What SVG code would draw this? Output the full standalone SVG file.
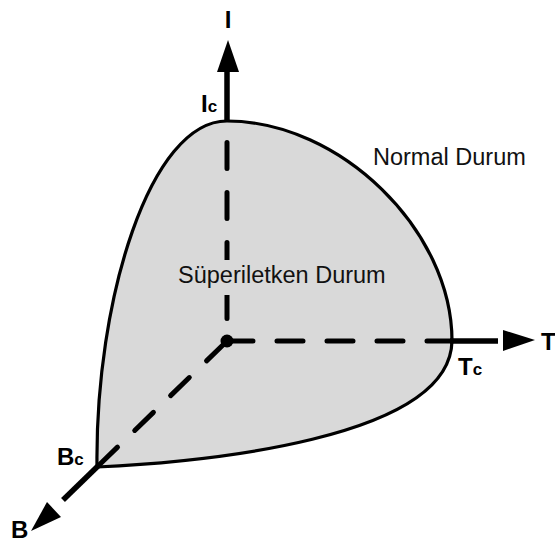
<svg xmlns="http://www.w3.org/2000/svg" width="555" height="545" viewBox="0 0 555 545">
<style>
.lbl{font-family:"Liberation Sans",Arial,sans-serif;font-weight:bold;font-size:24px;fill:#000}
.sub{font-size:17px}
.txt{font-family:"Liberation Sans",Arial,sans-serif;font-size:23.5px;fill:#111}
.dash{fill:none;stroke:#000;stroke-width:5;stroke-linecap:round;stroke-dasharray:26 24}
.solid{fill:none;stroke:#000;stroke-width:5.5}
.head{fill:#000;stroke:none}
</style>
<rect width="555" height="545" fill="#fff"/>
<g id="region">
<path d="M227,121 C340,121 452,230 452,341 C450,440 200,462 97,467 C95,300 150,121 227,121 Z" fill="#d9d9d9" stroke="#000" stroke-width="3.2"/>
</g>
<g id="connectors">
<path class="dash" d="M227,121 L227,341" stroke-dashoffset="28.5"/>
<path class="dash" d="M227,341 L452,341" stroke-dasharray="27 24"/>
<path class="dash" d="M227,341 L97,467" stroke-dashoffset="-2.5"/>
<line class="solid" x1="227" y1="121" x2="227" y2="70"/>
<polygon class="head" points="228,40 217,72 239,72"/>
<line class="solid" x1="450" y1="341" x2="498" y2="341"/>
<polygon class="head" points="535,340 503,330 503,351"/>
<line class="solid" x1="98" y1="466" x2="63" y2="500"/>
<polygon class="head" points="31,531 47,502 61,517"/>
<circle cx="227" cy="341" r="6.5" fill="#000"/>
</g>
<g id="label-super">
<rect x="176" y="260" width="216" height="35" fill="#d9d9d9"/>
<text class="txt" x="178" y="283">Süperiletken Durum</text>
</g>
<g id="label-normal">
<text class="txt" x="373" y="165">Normal Durum</text>
</g>
<g id="axis-labels">
<text class="lbl" x="228" y="28" text-anchor="middle">I</text>
<text class="lbl" x="201" y="112">I<tspan class="sub">c</tspan></text>
<text class="lbl" x="541" y="350">T</text>
<text class="lbl" x="458" y="375">T<tspan class="sub">c</tspan></text>
<text class="lbl" x="57" y="465">B<tspan class="sub">c</tspan></text>
<text class="lbl" x="11" y="538">B</text>
</g>
</svg>
